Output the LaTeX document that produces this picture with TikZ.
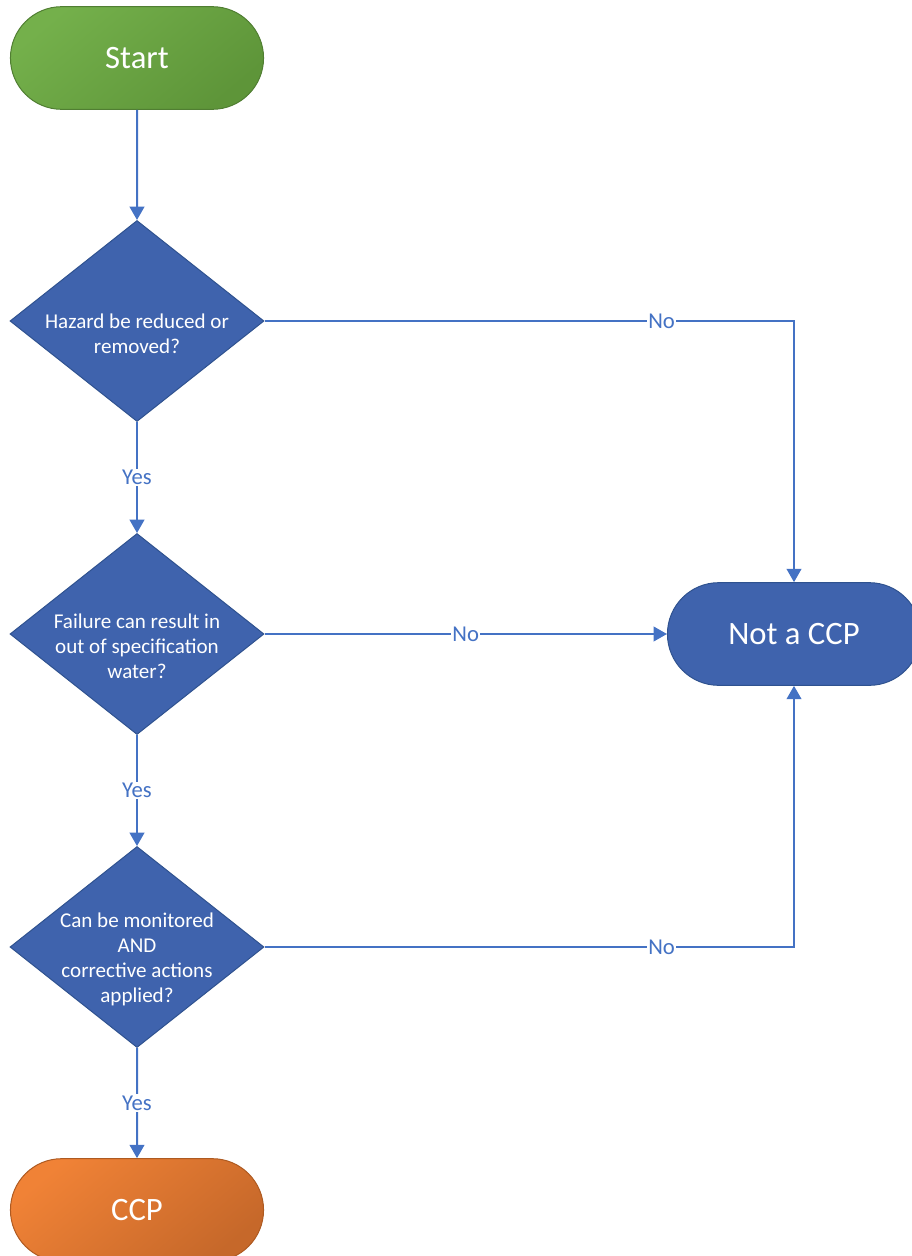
\documentclass[tikz,border=0pt]{standalone}
\usepackage{fontspec}
\setmainfont{Carlito}
\usepackage{tikz}
\usetikzlibrary{positioning, arrows.meta, shapes.geometric, shapes.misc}

\definecolor{linkblue}{HTML}{4472C4}
\definecolor{boxblue}{HTML}{3F63AD}
\definecolor{edgeblue}{HTML}{2F528F}
\definecolor{startlight}{HTML}{74B04B}
\definecolor{startdark}{HTML}{5E9539}
\definecolor{startedge}{HTML}{507E32}
\definecolor{ccplight}{HTML}{F08236}
\definecolor{ccpdark}{HTML}{C6682A}
\definecolor{ccpedge}{HTML}{AE5A21}

% first line of a decision sits a little low, as in the drawing
\newcommand{\lowfirst}{\rule{0pt}{30pt}}

\tikzset{
  terminal/.style={rounded rectangle, minimum width=196.5pt, minimum height=77pt,
    line width=0.75pt, text=white, font=\fontsize{24.5}{29}\selectfont},
  decision/.style={diamond, aspect=1.26, inner sep=-20pt, minimum width=190.5pt,
    minimum height=150.75pt, fill=boxblue, draw=edgeblue, line width=0.75pt,
    text=white, align=center, font=\fontsize{15.8}{18.75}\selectfont},
  flow/.style={draw=linkblue, line width=1.5pt, -{Triangle[width=11pt,length=10pt]}},
  answer/.style={fill=white, text=linkblue, inner sep=1pt, font=\fontsize{17}{20}\selectfont}
}

\begin{document}
\begin{tikzpicture}[x=0.75pt, y=-0.75pt]
\useasboundingbox (0,0) rectangle (912,1256);

% terminals and decisions
\node[terminal, draw=startedge, top color=startlight, bottom color=startdark, shading angle=40] (start) at (137,58) {Start};
\node[decision] (hazard) at (137,321) {\lowfirst Hazard be reduced or\\removed?};
\node[decision] (failure) at (137,634) {\lowfirst Failure can result in\\out of specification\\water?};
\node[decision] (monitor) at (137,947) {\lowfirst Can be monitored\\AND\\corrective actions\\applied?};
\node[terminal, draw=ccpedge, top color=ccplight, bottom color=ccpdark, shading angle=40] (ccp) at (137,1210) {CCP};
\node[terminal, fill=boxblue, draw=edgeblue] (notccp) at (794,634) {Not a CCP};

% main line
\draw[flow] (start) -- (hazard);
\draw[flow] (hazard) -- node[answer] {Yes} (failure);
\draw[flow] (failure) -- node[answer] {Yes} (monitor);
\draw[flow] (monitor) -- node[answer] {Yes} (ccp);

% the no branches
\draw[flow] (hazard.east) -| node[answer, pos=0.375] {No} (notccp.north);
\draw[flow] (failure) -- node[answer] {No} (notccp);
\draw[flow] (monitor.east) -| node[answer, pos=0.375] {No} (notccp.south);
\end{tikzpicture}
\end{document}
